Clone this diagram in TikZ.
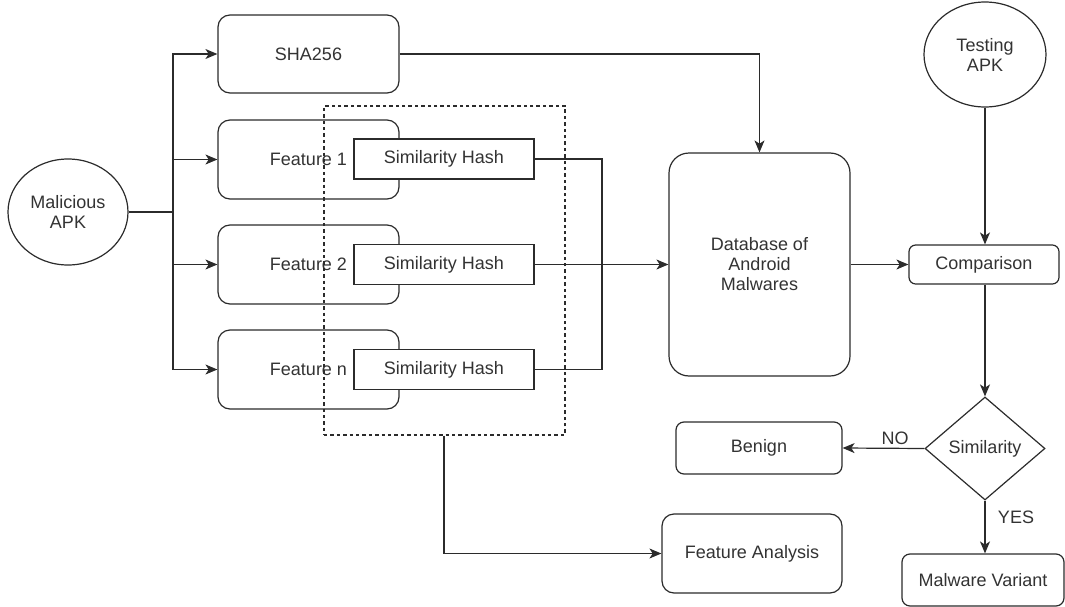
\documentclass[tikz,border=0pt]{standalone}
\usepackage{fontspec}
\setmainfont{Liberation Sans}
\usetikzlibrary{shapes.geometric,arrows.meta}
\definecolor{ink}{HTML}{2B2B2B}
\definecolor{txt}{HTML}{333333}
\begin{document}
\begin{tikzpicture}[x=0.75pt,y=-0.75pt,
  every node/.style={font=\fontsize{13.5}{15}\selectfont, text=txt, align=center},
  base/.style={draw=ink, line width=0.9pt, fill=white, inner sep=0pt},
  rbox/.style={base, rectangle, rounded corners=#1},
  rbox/.default=9pt,
  sbox/.style={base, rectangle},
  oval/.style={base, ellipse},
  decide/.style={base, diamond},
  wire/.style={draw=ink, line width=0.9pt},
  arr/.style={wire, -{Stealth[length=9pt,width=7.5pt,inset=2.5pt]}},
  group/.style={draw=ink, line width=0.8pt, dash pattern=on 2.6pt off 2.2pt, inner sep=0pt},
  lbl/.style={font=\fontsize{13.5}{15}\selectfont, text=txt}
]
\useasboundingbox (0,0) rectangle (1065,607);

% input sample and its extracted parts
\node[oval, minimum width=90pt, minimum height=79.5pt] (mal) at (68,212) {Malicious\\APK};
\node[rbox, minimum width=135.75pt, minimum height=58.5pt] (sha) at (308.5,54) {SHA256};
\node[rbox, minimum width=135.75pt, minimum height=59.25pt] (f1) at (308.5,159.5) {Feature 1};
\node[rbox, minimum width=135.75pt, minimum height=59.25pt] (f2) at (308.5,264.5) {Feature 2};
\node[rbox, minimum width=135.75pt, minimum height=59.25pt] (fn) at (308.5,369.5) {Feature n};

% similarity hashes
\node[sbox, minimum width=135pt, minimum height=30pt] (h1) at (444,159) {Similarity Hash};
\node[sbox, minimum width=135pt, minimum height=30pt] (h2) at (444,264.5) {Similarity Hash};
\node[sbox, minimum width=135pt, minimum height=30pt] (h3) at (444,369.5) {Similarity Hash};

% dashed group around the hashes
\node[group, minimum width=180.75pt, minimum height=246.75pt] (grp) at (444.5,270.5) {};

% database and testing side
\node[rbox=15pt, minimum width=135.75pt, minimum height=167.25pt] (db) at (759.5,264.5) {Database of\\Android\\Malwares};
\node[oval, minimum width=91.5pt, minimum height=78.75pt] (test) at (985,54.5) {Testing\\APK};
\node[rbox=5pt, minimum width=112.5pt, minimum height=29.25pt] (cmp) at (984,264.5) {Comparison};
\node[decide, minimum width=90pt, minimum height=77.25pt, label={center:Similarity}] (sim) at (985,448.5) {};
\node[rbox=6pt, minimum width=124.5pt, minimum height=39pt] (ben) at (759,448) {Benign};
\node[rbox=6pt, minimum width=121.5pt, minimum height=39pt] (mv) at (983,580) {Malware Variant};
\node[rbox, minimum width=135pt, minimum height=59.25pt] (fa) at (752,553.5) {Feature Analysis};

% fan-out from the malicious sample
\coordinate (br) at (173,212);
\draw[wire] (mal.east) -- (br);
\draw[arr] (br) |- (sha.west);
\draw[arr] (br) |- (f1.west);
\draw[arr] (br) |- (f2.west);
\draw[arr] (br) |- (fn.west);

% hashes into the database
\coordinate (jn) at (602,264.5);
\draw[wire] (h1.east) -| (jn);
\draw[wire] (h3.east) -| (jn);
\draw[arr] (h2.east) -- (db.west);
\draw[arr] (sha.east) -| (db.north);

% lookup and decision
\draw[arr] (db.east) -- (cmp.west);
\draw[arr] (test.south) -- (test.south |- cmp.north);
\draw[arr] (cmp.south -| sim.north) -- (sim.north);
\draw[arr] (sim.west) -- (ben.east);
\draw[arr] (sim.south) -- (sim.south |- mv.north);
\node[lbl] (no) at (895,438) {NO};
\node[lbl] (yes) at (1016,517) {YES};

% hashes go to feature analysis
\draw[arr] (grp.south -| 444,0) |- (fa.west);
\end{tikzpicture}
\end{document}
